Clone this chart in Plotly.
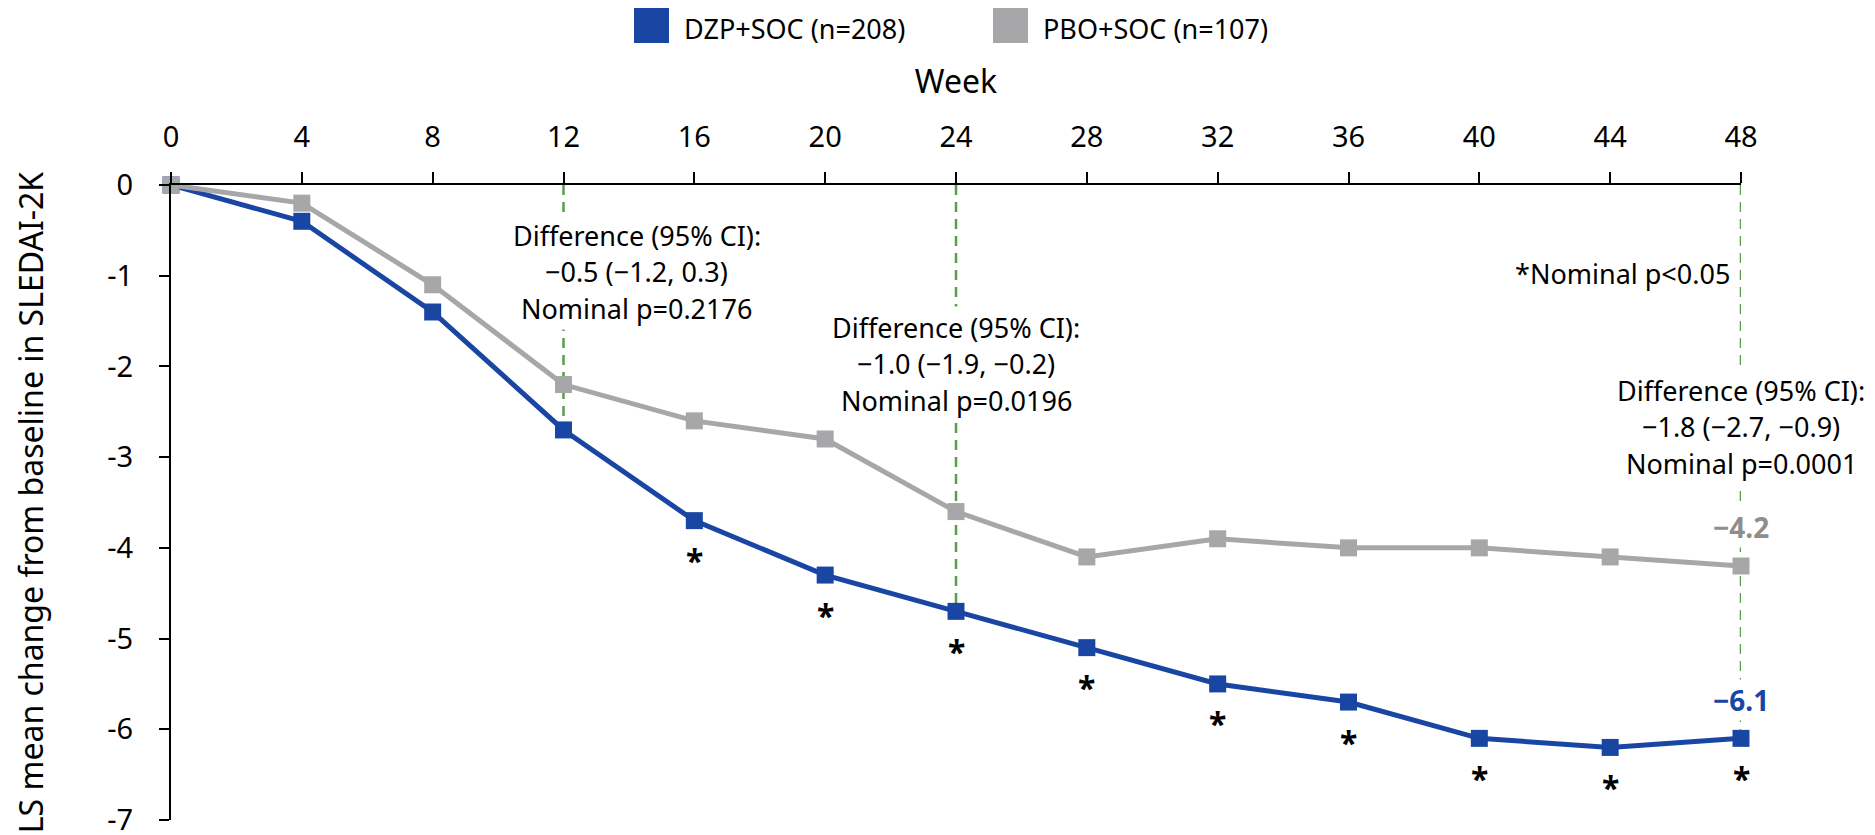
import plotly.graph_objects as go

# ---- data ----
weeks = [0, 4, 8, 12, 16, 20, 24, 28, 32, 36, 40, 44, 48]
dzp = [0, -0.4, -1.4, -2.7, -3.7, -4.3, -4.7, -5.1, -5.5, -5.7, -6.1, -6.2, -6.1]
pbo = [0, -0.2, -1.1, -2.2, -2.6, -2.8, -3.6, -4.1, -3.9, -4.0, -4.0, -4.1, -4.2]
significant_weeks = [16, 20, 24, 28, 32, 36, 40, 44, 48]
y_ticks = [0, -1, -2, -3, -4, -5, -6, -7]
y_ticktext = ["0", "-1", "-2", "-3", "-4", "-5", "-6", "-7"]
dzp_name = "DZP+SOC (n=208)"
pbo_name = "PBO+SOC (n=107)"
comparison_weeks = [12, 24, 48]
comparison_text = [
    ["Difference (95% CI):", "\u22120.5 (\u22121.2, 0.3)", "Nominal p=0.2176"],
    ["Difference (95% CI):", "\u22121.0 (\u22121.9, \u22120.2)", "Nominal p=0.0196"],
    ["Difference (95% CI):", "\u22121.8 (\u22122.7, \u22120.9)", "Nominal p=0.0001"],
]

BLUE = "#1a46a3"
GRAY = "#a7a7a9"
GRAY_TXT = "#8e8e8e"
GREEN = "#5a9e4b"
FONT = "Noto Sans"

# page has an 8px body margin; figure is sized to fit the window
OFF = 8
PLOT_LEFT, PLOT_TOP = 171, 185  # position of plot area in the window

fig = go.Figure()
fig.add_trace(go.Scatter(x=weeks, y=dzp, name=dzp_name, mode="lines+markers",
                         line=dict(color=BLUE, width=5),
                         marker=dict(symbol="square", size=17, color=BLUE),
                         cliponaxis=False, showlegend=False))
fig.add_trace(go.Scatter(x=weeks, y=pbo, name=pbo_name, mode="lines+markers",
                         line=dict(color=GRAY, width=5),
                         marker=dict(symbol="square", size=17, color=GRAY),
                         cliponaxis=False, showlegend=False))

shapes = []
annotations = []

# green dashed reference lines
for w in comparison_weeks:
    i = weeks.index(w)
    shapes.append(dict(type="line", xref="x", yref="y", x0=w, x1=w, y0=0, y1=dzp[i],
                       line=dict(color=GREEN, width=2.5, dash="10px,7px"), layer="below"))

# comparison text blocks (line centres, px from window top)
block_top_px = [235, 327, 390]
block_xshift = [73, 0, 0]
line_gap = 36.5
for w, lines, top, xs in zip(comparison_weeks, comparison_text, block_top_px, block_xshift):
    for k, t in enumerate(lines):
        annotations.append(dict(text=t, xref="x", x=w, xshift=xs, yref="paper", y=1,
                                yshift=-(top - PLOT_TOP + k * line_gap), yanchor="middle",
                                xanchor="center", showarrow=False, bgcolor="white",
                                borderpad=2, font=dict(family=FONT, size=27, color="black")))

annotations.append(dict(text="*Nominal p<0.05", xref="x", x=48, xshift=-9, yref="paper", y=1,
                        yshift=-(273 - PLOT_TOP), yanchor="middle", xanchor="right", showarrow=False,
                        font=dict(family=FONT, size=27, color="black")))

# asterisks
for w in significant_weeks:
    i = weeks.index(w)
    annotations.append(dict(text="<b>*</b>", x=w, y=dzp[i], yshift=-40, showarrow=False,
                            xanchor="center", yanchor="middle",
                            font=dict(family=FONT, size=32, color="black")))

# end value labels
annotations.append(dict(text="<b>\u2212%.1f</b>" % abs(pbo[-1]), x=weeks[-1], y=pbo[-1], yshift=39,
                        showarrow=False, bgcolor="white", xanchor="center", yanchor="middle",
                        font=dict(family=FONT, size=28, color=GRAY_TXT)))
annotations.append(dict(text="<b>\u2212%.1f</b>" % abs(dzp[-1]), x=weeks[-1], y=dzp[-1], yshift=38,
                        showarrow=False, bgcolor="white", xanchor="center", yanchor="middle",
                        font=dict(family=FONT, size=28, color=BLUE)))

# bracket between end values
shapes.append(dict(type="path", xref="x", xsizemode="pixel", xanchor=weeks[-1], yref="y",
                   path="M 21,%s L 65,%s L 65,%s L 21,%s" % (pbo[-1], pbo[-1], dzp[-1], dzp[-1]),
                   line=dict(color="black", width=2.5, dash="8px,5px")))

# manual legend (large square swatches), positions in window px
legend_items = [(dzp_name, BLUE, 634), (pbo_name, GRAY, 993)]
for name, col, x0 in legend_items:
    shapes.append(dict(type="rect", xref="paper", xsizemode="pixel", xanchor=0,
                       x0=x0 - PLOT_LEFT, x1=x0 - PLOT_LEFT + 35, yref="paper", ysizemode="pixel",
                       yanchor=1, y0=PLOT_TOP - 43, y1=PLOT_TOP - 8, fillcolor=col, line=dict(width=0)))
    annotations.append(dict(text=name, xref="paper", x=0, xshift=x0 - PLOT_LEFT + 48, xanchor="left",
                            yref="paper", y=1, yshift=PLOT_TOP - 28, yanchor="middle", showarrow=False,
                            font=dict(family=FONT, size=27, color="black")))

fig.update_layout(
    width=1875 - OFF, height=835 - OFF,
    margin=dict(l=PLOT_LEFT - OFF, r=134, t=PLOT_TOP - OFF, b=15),
    paper_bgcolor="white", plot_bgcolor="white",
    font=dict(family=FONT, size=28, color="black"),
    showlegend=False,
    shapes=shapes, annotations=annotations,
    xaxis=dict(side="top", range=[0, 48], tickvals=weeks, ticks="outside", ticklen=11,
               tickwidth=2, tickcolor="black", showline=True, linecolor="black", linewidth=2,
               showgrid=False, zeroline=False, automargin=False, ticklabelstandoff=13,
               ticklabeloverflow="allow",
               tickfont=dict(family=FONT, size=29),
               title=dict(text="Week", font=dict(family=FONT, size=32), standoff=13)),
    yaxis=dict(range=[-7, 0], tickvals=y_ticks, ticktext=y_ticktext, ticks="outside", ticklen=10,
               tickwidth=2, tickcolor="black", showline=True, linecolor="black", linewidth=2,
               showgrid=False, zeroline=False, automargin=False, ticklabelstandoff=20,
               ticklabeloverflow="allow",
               tickfont=dict(family=FONT, size=29),
               title=dict(text="LS mean change from baseline in SLEDAI-2K",
                          font=dict(family=FONT, size=32), standoff=54)),
)

fig.write_html("out.html")
